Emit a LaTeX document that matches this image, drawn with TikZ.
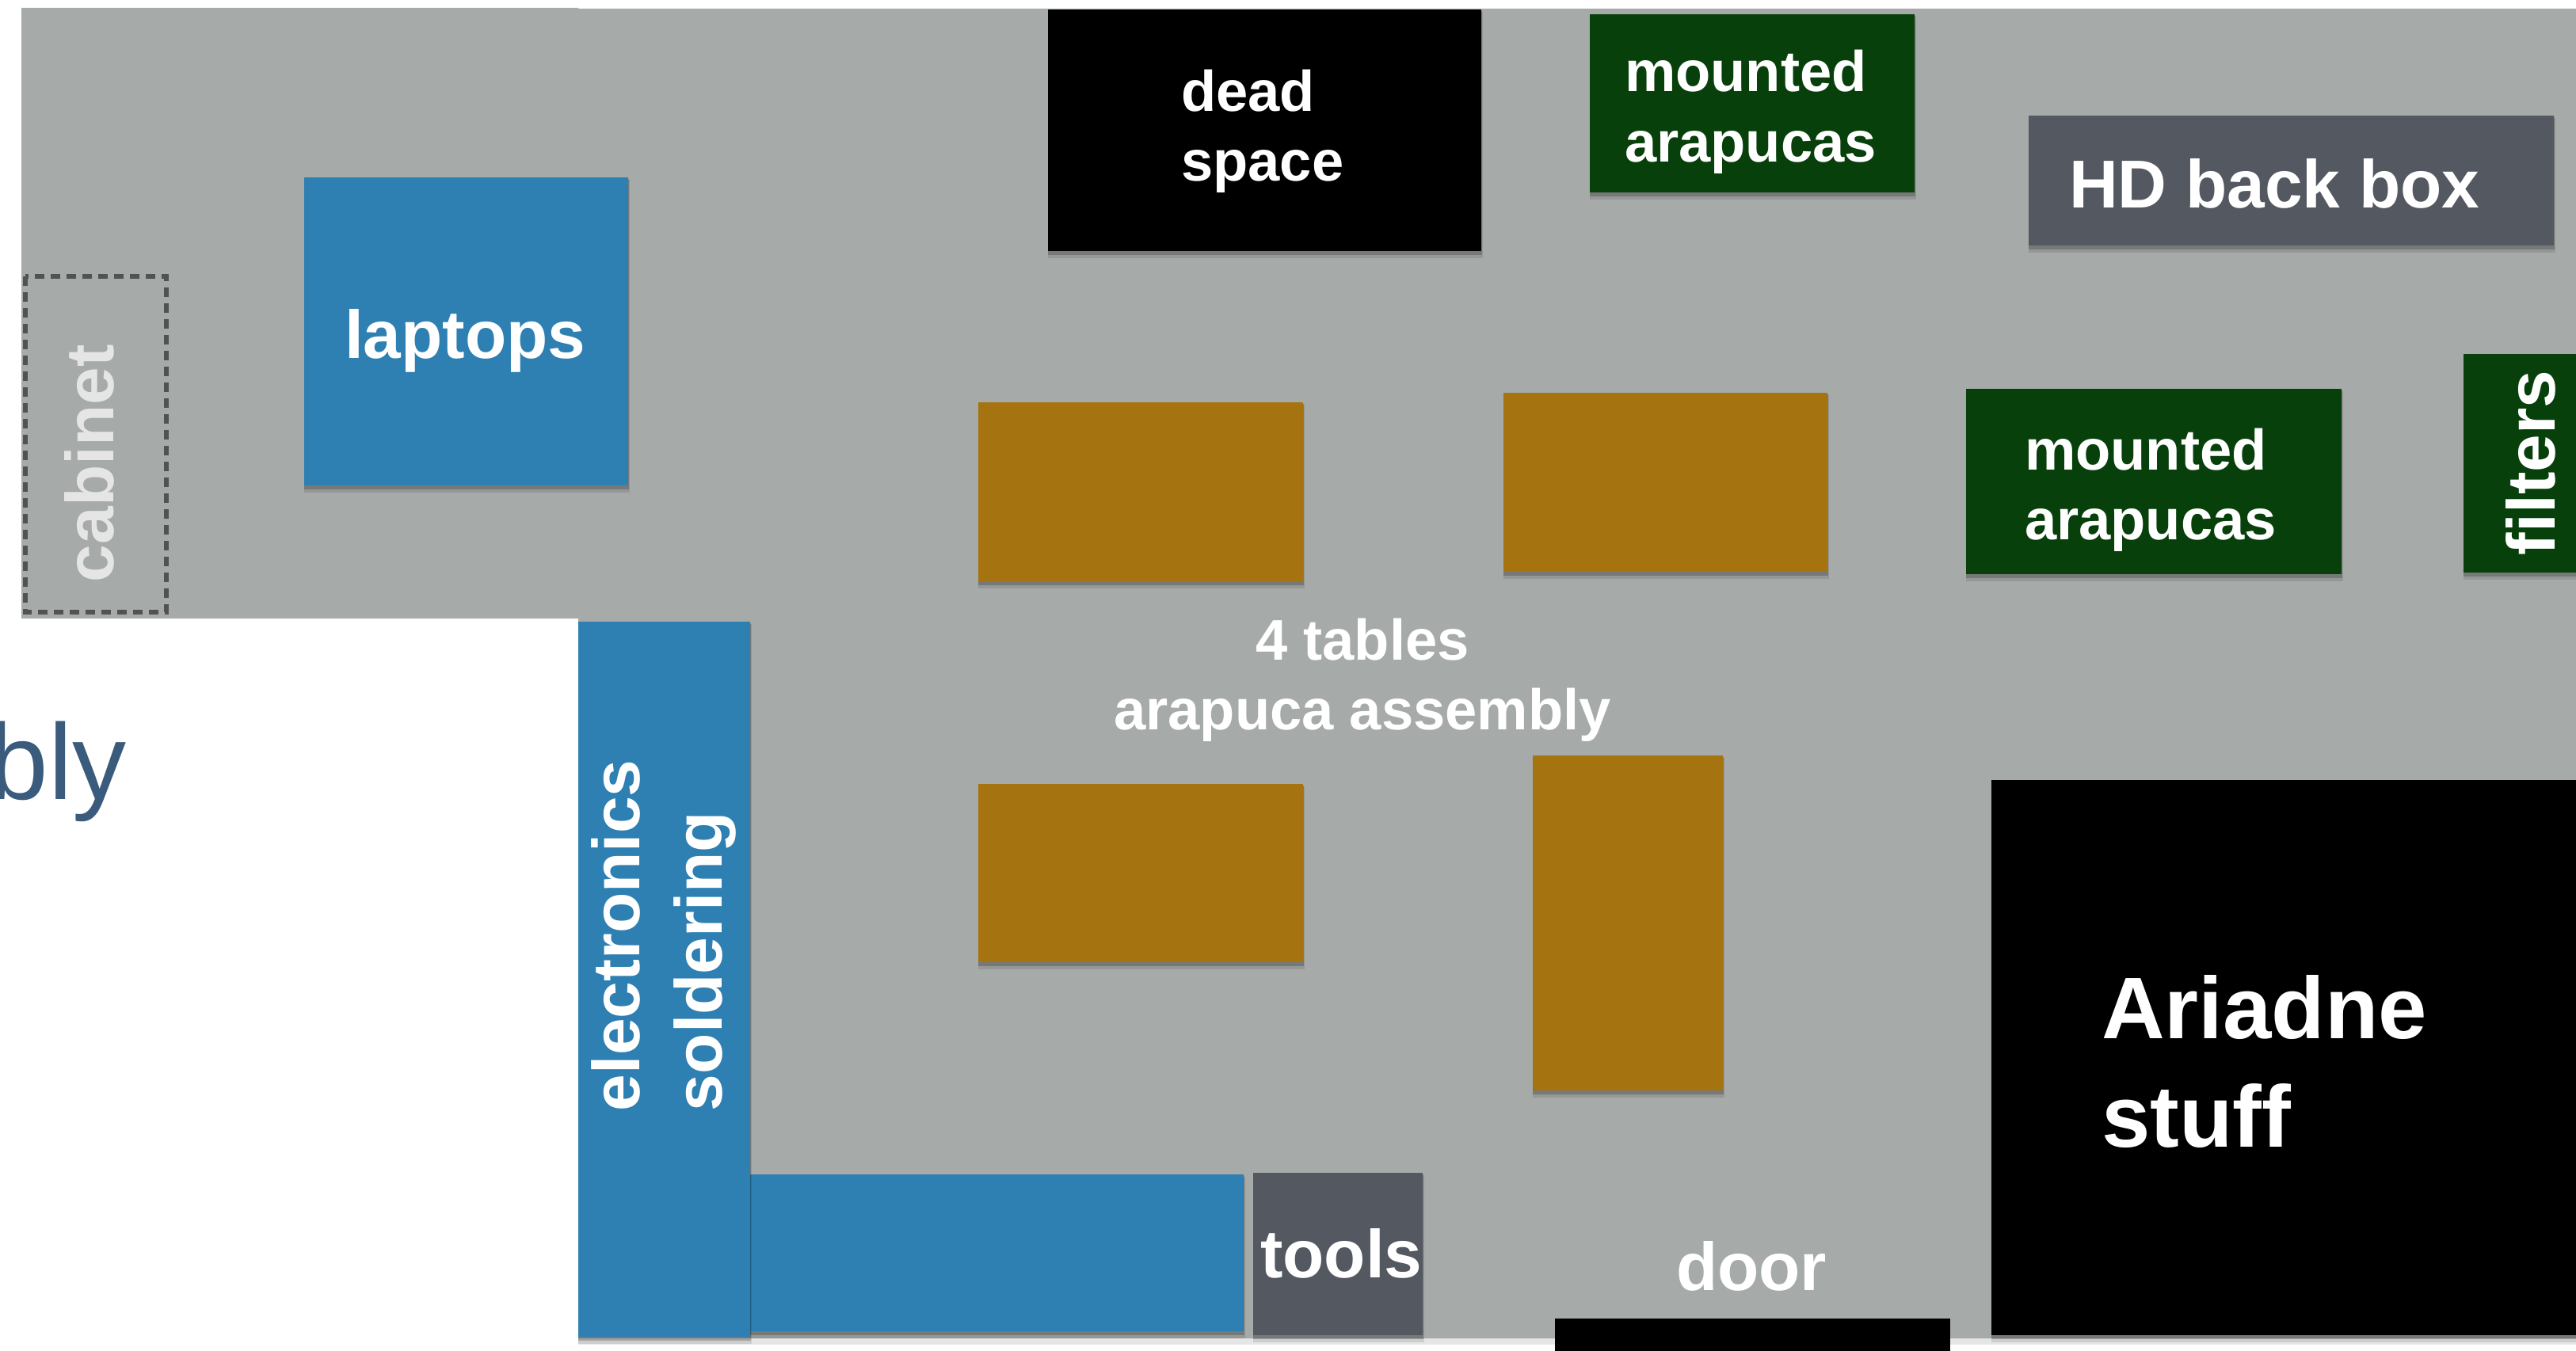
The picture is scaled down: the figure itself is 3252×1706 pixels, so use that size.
\documentclass[tikz,border=0pt]{standalone}
\usepackage{fontspec}
\setmainfont{Liberation Sans}
\definecolor{floorgrey}{HTML}{A6AAA8}
\definecolor{blueb}{HTML}{2E7FB2}
\definecolor{greenb}{HTML}{07400A}
\definecolor{brownb}{HTML}{A57411}
\definecolor{slateb}{HTML}{535861}
\definecolor{titleb}{HTML}{3B5B7C}
\tikzset{
  x=0.5pt,y=-0.5pt,
  lbl/.style={inner sep=0pt,outer sep=0pt,text=white,font=\bfseries\fontsize{42.8}{44}\selectfont,anchor=base west},
  lblm/.style={lbl,font=\bfseries\fontsize{36.2}{44.5}\selectfont},
  lbls/.style={lbl,font=\bfseries\fontsize{42}{44}\selectfont},
}
\newcommand{\shbox}[5]{%
  \fill[black,opacity=.10] (#2,#3+3) rectangle (#4+2,#5+9);
  \fill[black,opacity=.20] (#2,#3+2) rectangle (#4+1,#5+5);
  \fill[#1] (#2,#3) rectangle (#4,#5);}
\begin{document}
\begin{tikzpicture}
\useasboundingbox (0,0) rectangle (3252,1706);
\fill[white] (0,0) rectangle (3252,1706);
% floor
\fill[black,opacity=.10] (730,1690) rectangle (3252,1698);
\fill[floorgrey] (27,10) -- (730,10) -- (730,11) -- (3252,11) -- (3252,1690) -- (730,1690) -- (730,781) -- (27,781) -- cycle;
% title fragment
\node[inner sep=0pt,anchor=base east,text=titleb,font=\fontsize{68}{70}\selectfont] (title) at (160,1009) {bly};
% cabinet
\draw[draw=black!68,line width=2.6pt,dash pattern=on 6pt off 4pt] (32,349) rectangle (210,773);
\node[lbl,rotate=90,text=white!90!black] (cabinet) at (143,735) {cabinet};
% blue
\shbox{blueb}{384}{224}{793}{613}
\shbox{blueb}{947}{1483}{1570}{1681}
\shbox{blueb}{730}{785}{947}{1688}
\node[lbl] (laptops) at (435,453) {laptops};
\node[lbls,rotate=90] (electronics) at (807,1403) {electronics};
\node[lbls,rotate=90] (soldering) at (911,1403) {soldering};
% black
\shbox{black}{1323}{12}{1870}{317}
\node[lblm] (dead) at (1491,141) {dead};
\node[lblm] (space) at (1491,229) {space};
\shbox{black}{2514}{985}{3252}{1686}
\node[lbl,font=\bfseries\fontsize{55.2}{67}\selectfont] (ariadne) at (2653,1311) {Ariadne};
\node[lbl,font=\bfseries\fontsize{55.2}{67}\selectfont] (stuff) at (2653,1448) {stuff};
\fill[black] (1963,1665) rectangle (2462,1706);
\node[lbl] (door) at (2116,1629) {door};
% green
\shbox{greenb}{2007}{18}{2417}{243}
\node[lblm] (m1a) at (2051,116) {mounted};
\node[lblm] (m1b) at (2051,205) {arapucas};
\shbox{greenb}{2482}{491}{2956}{725}
\node[lblm] (m2a) at (2556,594) {mounted};
\node[lblm] (m2b) at (2556,682) {arapucas};
\shbox{greenb}{3110}{447}{3252}{723}
\node[lbl,rotate=90] (filters) at (3225,701) {filters};
% slate
\shbox{slateb}{2561}{146}{3224}{310}
\node[lbl] (hd) at (2612,263) {HD back box};
\shbox{slateb}{1582}{1481}{1796}{1686}
\node[lbl] (tools) at (1591,1613) {tools};
% tables
\shbox{brownb}{1235}{508}{1645}{734}
\shbox{brownb}{1898}{496}{2307}{722}
\shbox{brownb}{1235}{990}{1645}{1215}
\shbox{brownb}{1935}{954}{2175}{1377}
\node[lblm,anchor=base] (t1) at (1720,833) {4 tables};
\node[lblm,anchor=base] (t2) at (1720,921) {arapuca assembly};
\end{tikzpicture}
\end{document}
